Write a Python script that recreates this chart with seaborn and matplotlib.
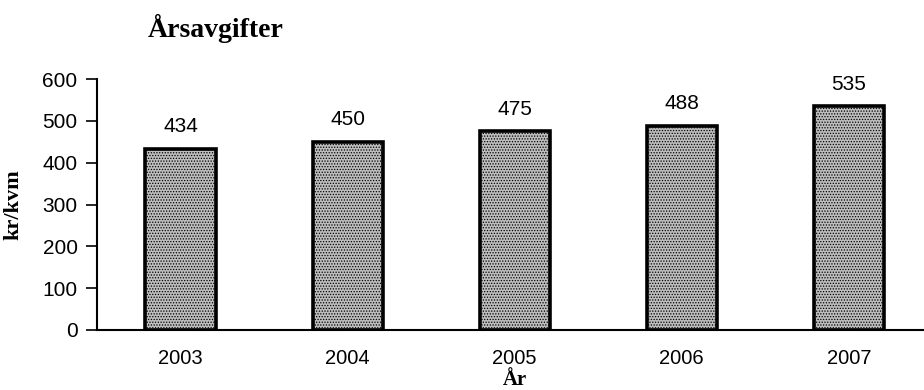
import matplotlib
matplotlib.use("Agg")
import matplotlib.pyplot as plt
import seaborn as sns
import pandas as pd

# data
years = ["2003", "2004", "2005", "2006", "2007"]
fees = [434, 450, 475, 488, 535]

df = pd.DataFrame({"År": years, "kr/kvm": fees})

sns.set_style("white")
plt.rcParams["hatch.linewidth"] = 0.6
plt.rcParams["text.color"] = "black"
plt.rcParams["xtick.color"] = "black"
plt.rcParams["ytick.color"] = "black"
plt.rcParams["axes.labelcolor"] = "black"

fig = plt.figure(figsize=(9.24, 3.9), dpi=100)
ax = fig.add_axes([0.105, 0.154, 0.904, 0.643])

sns.barplot(data=df, x="År", y="kr/kvm", color="#bdbdbd", width=0.42,
            edgecolor="black", linewidth=2.6, saturation=1, ax=ax)
for p in ax.patches:
    p.set_hatch("......")

ax.bar_label(ax.containers[0], padding=9, fontsize=15, family="Liberation Sans", color="black")

ax.set_ylim(0, 600)
ax.set_xlim(-0.5, 4.5)
ax.set_yticks(range(0, 601, 100))
ax.set_yticklabels([str(v) for v in range(0, 601, 100)], family="Liberation Sans", fontsize=15)
ax.set_xticks(range(len(years)))
ax.set_xticklabels(years, family="Liberation Sans", fontsize=14.5)
ax.set_xticks([0.5, 1.5, 2.5, 3.5], minor=True)
ax.tick_params(axis="x", which="major", length=0, pad=14)
ax.tick_params(axis="x", which="minor", length=6, width=1.2, direction="out", color="black")
ax.tick_params(axis="y", length=8, width=1.2, direction="out", color="black", pad=6, left=True)

for s in ["top", "right"]:
    ax.spines[s].set_visible(False)
for s in ["left", "bottom"]:
    ax.spines[s].set_color("black")
    ax.spines[s].set_linewidth(1.5)

ax.set_xlabel("År", family="Liberation Serif", fontweight="bold", fontsize=15, labelpad=1)
ax.set_ylabel("kr/kvm", family="Liberation Serif", fontweight="bold", fontsize=16, labelpad=14)

fig.text(0.16, 0.905, "Årsavgifter", family="Liberation Serif", fontweight="bold", fontsize=20)

fig.savefig("out.png", dpi=100)
